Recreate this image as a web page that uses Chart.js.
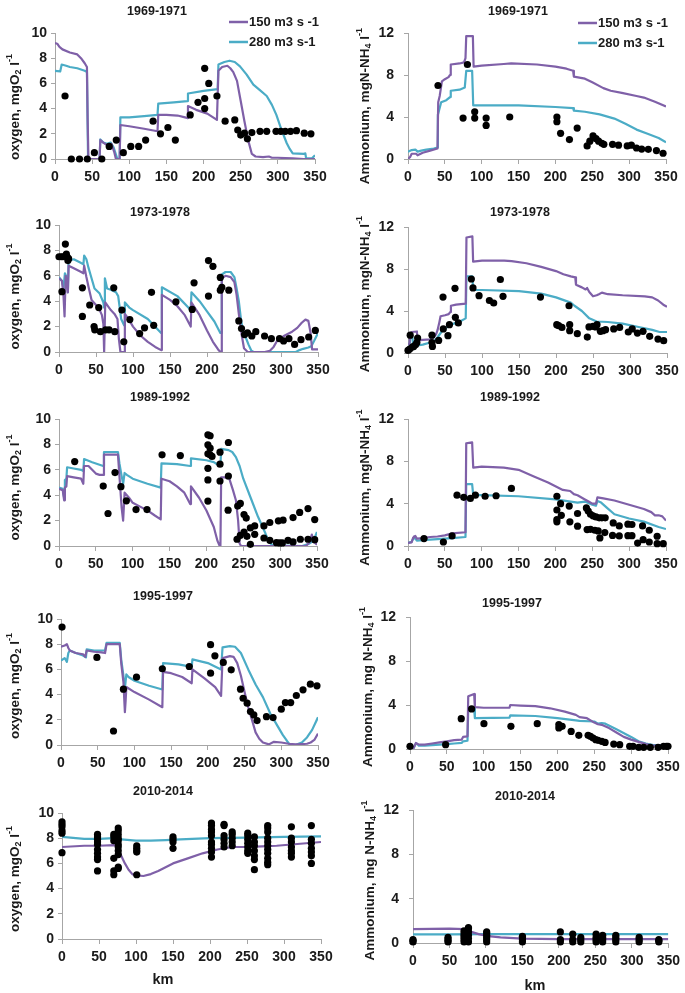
<!DOCTYPE html>
<html><head><meta charset="utf-8">
<script src="https://cdn.jsdelivr.net/npm/chart.js@4"></script>
<style>
html,body{margin:0;padding:0;background:#fff;}
body{width:685px;height:993px;position:relative;overflow:hidden;}
canvas{position:absolute;left:0;top:0;}
</style></head><body>
<script>
// ---------- DATA (km, value) ----------
const xTicks = [0,50,100,150,200,250,300,350];
const oxygenTicks = [0,2,4,6,8,10];
const ammoniumTicks = [0,4,8,12];
const legendLabels = ['150 m3 s -1','280 m3 s-1'];
const periods = ['1969-1971','1973-1978','1989-1992','1995-1997','2010-2014'];

// 1969-1971 oxygen
const o1_q150 = [[0,9.2],[3,9.15],[6,8.9],[10,8.7],[20,8.45],[30,8.3],[35,8.0],[40,7.6],[43,7.3],[44,3],[45,0],[60,0],[61,1.5],[65,1.3],[70,1.1],[75,1.0],[76,1.2],[80,0.5],[82,0],[87,0],[88,2.7],[100,2.6],[120,2.4],[138,2.2],[139,3.5],[150,3.5],[165,3.45],[175,3.3],[178,3.25],[179,4.2],[190,3.9],[205,3.6],[218,3.1],[220,7.0],[225,7.3],[232,7.4],[236,7.2],[240,6.9],[245,6.2],[250,4.6],[255,3.0],[260,1.5],[265,0.4],[270,0.2],[280,0.15],[288,0.2],[292,0.1],[300,0.1],[320,0.05],[335,0],[350,0]];
const o1_q280 = [[0,7.0],[7,6.95],[9,7.5],[15,7.4],[20,7.3],[30,7.2],[35,7.1],[40,7.0],[43,6.9],[44.5,0],[60,0],[61,1.55],[65,1.3],[70,1.2],[75,1.3],[79,0.9],[84,0],[87,0],[88,3.3],[100,3.3],[120,3.4],[138,3.5],[139,4.4],[160,4.5],[178,4.6],[179,5.2],[200,5.4],[219,5.55],[220,7.5],[228,7.7],[235,7.8],[242,7.7],[249,7.35],[258,6.7],[267,5.9],[275,5.5],[285,5.0],[292,4.3],[298,3.5],[305,2.3],[312,1.25],[316,0.8],[320,0.45],[335,0.4],[337,0.45],[338,0.05],[346,0.05],[350,0.3]];
const o1_obs = [[13.5,5.0],[22,0],[33,0],[43.5,0],[53,0.5],[63,0],[73,1.0],[82.5,1.5],[92,0.5],[102,1.0],[112.6,1.0],[122,1.5],[132,3.0],[142,2.0],[152,2.5],[162,1.5],[182,3.5],[192.5,4.5],[201.5,4.8],[201.5,4.0],[201.5,7.2],[207,6.0],[218,5.0],[229,3.0],[242,3.1],[246,2.3],[250,1.9],[255,2.05],[259,1.6],[265,2.1],[276,2.2],[285,2.2],[297.5,2.2],[304,2.2],[310,2.2],[317,2.2],[325,2.25],[335.5,2.05],[344.5,2.0]];

// 1969-1971 ammonium
const a1_q150 = [[0,0],[3,0.2],[5,0.5],[11,0.5],[13,0.35],[20,0.6],[30,0.8],[40,1.0],[41,5.4],[43,6.0],[46,7.4],[50,7.6],[55,7.8],[57,8.0],[58,9.0],[70,9.1],[76,9.2],[78,9.6],[79,11.7],[88,11.7],[89,8.8],[100,8.9],[130,9.05],[140,9.1],[175,9.0],[200,8.8],[215,8.6],[224,8.4],[225,7.85],[240,7.65],[250,7.3],[265,6.75],[275,6.5],[290,6.3],[310,6.0],[320,5.85],[335,5.45],[350,5.0]];
const a1_q280 = [[0,0.7],[5,0.85],[10,0.9],[13,0.7],[18,0.8],[25,0.9],[35,1.0],[40,1.1],[40.5,4.2],[45,5.4],[52,5.6],[57,5.9],[58,6.5],[70,6.6],[77,6.8],[79,8.4],[87,8.4],[88.5,5.1],[150,5.1],[200,4.95],[224,4.85],[225,4.6],[240,4.5],[260,4.25],[280,3.85],[295,3.35],[310,2.8],[325,2.4],[340,2.0],[350,1.6]];
const a1_obs = [[40.7,7.0],[80.6,9.0],[74.7,3.9],[90.5,4.5],[90.5,3.9],[106,3.9],[106,3.2],[138,4.0],[202,4.0],[202,3.55],[207,2.45],[219,1.85],[229.5,2.95],[243,1.25],[246.7,1.7],[251,2.2],[255,1.95],[258.5,1.7],[263,1.5],[265.7,1.4],[277.5,1.4],[285.6,1.32],[297.4,1.25],[303,1.32],[310,1.05],[317,0.95],[326,0.92],[337,0.8],[346,0.55]];

// 1973-1978 oxygen
const o2_q150 = [[0,5.8],[4,5.6],[6,4.5],[7.5,2.8],[9,6.0],[11,5.5],[12,4.7],[13,6.8],[20,6.6],[30,6.3],[33,6.2],[34,6.8],[37,5.9],[40,5.1],[44,4.1],[50,3.7],[55,3.3],[58,2.9],[60,2.2],[61,0],[62,0],[62.5,3.9],[70,3.3],[75,3.0],[79,2.6],[81,1.0],[83,0],[88,0],[89,3.0],[95,2.5],[100,2.0],[110,1.3],[120,0.8],[130,0.4],[138,0.15],[139,4.5],[150,4.1],[160,3.6],[170,2.9],[178,2.0],[179,3.9],[190,2.9],[200,1.7],[208,0.8],[215,0.2],[218,0],[219,0],[220,5.8],[225,6.0],[232,5.9],[237,5.5],[240,4.5],[243,3.0],[247,1.3],[250,0.3],[255,0],[278,0],[285,0.1],[290,0.4],[295,0.9],[305,1.3],[315,1.6],[322,1.9],[328,2.3],[333,2.55],[337,2.45],[340,1.5],[342,0.2],[350,0.2]];
const o2_q280 = [[0,5.9],[4,5.6],[6,5.0],[8,6.2],[11,5.8],[12,4.7],[13,7.2],[20,7.3],[30,7.0],[33,6.9],[34,7.6],[37,7.3],[40,6.6],[43,6.0],[48,5.0],[55,4.6],[60,3.9],[61,3.5],[62,5.8],[65,5.0],[70,4.9],[77,4.7],[80,4.4],[84,2.6],[88,2.1],[89,3.9],[95,3.5],[100,3.3],[120,2.6],[138,1.5],[139,5.1],[160,4.4],[178,3.3],[179,4.7],[190,4.0],[200,3.2],[210,2.4],[218,1.5],[219,1.5],[220,6.1],[225,6.3],[232,6.3],[237,5.9],[240,5.0],[243,4.0],[246,2.5],[249,1.6],[252,1.2],[256,0.6],[260,0.1],[263,0],[320,0],[325,0.15],[330,0.25],[337,0.35],[341,0.45],[345,0.9],[350,1.5]];
const o2_obs = [[0,7.5],[3,7.5],[5.4,7.5],[8.6,8.5],[10,7.7],[11,7.5],[13,7.35],[12,7.2],[4,4.75],[31.6,5.05],[31.6,2.8],[41.5,3.7],[47.4,2.0],[48.3,1.75],[53.7,3.5],[56,1.6],[63,1.75],[67.7,1.75],[74,5.05],[75.4,1.6],[85,3.3],[87.6,0.8],[95.7,2.55],[109,1.45],[115.6,1.9],[125,4.7],[128,2.1],[158,3.95],[180,3.35],[182.5,5.45],[202,7.2],[202,4.4],[208,6.75],[218,5.87],[218,4.87],[220,5.1],[229.5,4.87],[243,2.45],[246.6,1.85],[250.7,1.37],[254.7,1.5],[260.6,1.26],[266,1.6],[277.8,1.26],[287,1.05],[298,1.05],[303.5,0.87],[310.7,1.05],[318.4,0.6],[327,0.97],[337.4,1.18],[346.4,1.7]];

// 1973-1978 ammonium
const a2_q150 = [[0,0.8],[2,0.9],[3,1.8],[5,2.0],[12,2.05],[13,1.2],[20,1.25],[30,1.3],[35,1.5],[38,1.8],[40,2.2],[42,2.8],[44,3.5],[50,3.6],[55,3.7],[57,3.9],[58,4.5],[65,4.6],[78,4.7],[79,11.0],[87,11.1],[88,8.7],[100,8.8],[130,8.8],[140,8.75],[160,8.55],[180,8.2],[200,7.8],[210,7.5],[220,7.3],[226,7.2],[227,6.5],[235,6.25],[240,6.05],[242,6.2],[245,5.8],[250,5.4],[255,5.5],[258,5.6],[262,5.75],[270,5.6],[290,5.5],[320,5.4],[330,5.3],[338,5.0],[345,4.6],[350,4.4]];
const a2_q280 = [[0,0.4],[2,0.5],[3,1.5],[6,1.5],[7,0.6],[10,0.7],[20,0.8],[30,1.0],[35,1.1],[40,1.5],[45,2.0],[50,2.3],[55,2.6],[58,2.7],[70,3.0],[78,3.3],[79,7.3],[87,7.3],[88,6.0],[100,6.0],[150,5.9],[180,5.65],[200,5.3],[220,4.8],[225,4.5],[235,4.0],[245,3.3],[255,3.0],[270,2.95],[290,2.8],[310,2.5],[330,2.2],[340,2.0],[350,2.0]];
const a2_obs = [[0,0.25],[2.3,0.38],[3,1.7],[5.9,0.57],[7.7,0.63],[10.4,0.8],[12,1.0],[13,1.43],[32.4,1.7],[32.4,1.0],[33,0.63],[41.4,1.2],[47.3,5.33],[47.7,2.29],[54,1.65],[56,2.7],[63.5,6.16],[64,3.4],[68,2.86],[85.6,7.05],[87.8,6.2],[96,5.46],[110,5.0],[115.8,4.76],[124.8,7.0],[128.4,5.4],[179,5.33],[201,2.7],[203.6,2.6],[208,2.44],[217.6,4.5],[218.5,2.7],[218.5,2.13],[228.8,1.84],[242.3,1.52],[244.6,2.48],[250,2.54],[253.6,2.48],[255.4,2.7],[260,2.06],[263.5,2.13],[267,2.22],[278,2.29],[286,2.44],[297.7,2.0],[303,2.29],[310,1.9],[317.6,2.06],[326.6,1.59],[337.8,1.33],[345.5,1.17]];

// 1989-1992 oxygen
const o3_q150 = [[0,4.5],[5,4.4],[7,3.6],[8,4.6],[10,4.7],[11,5.5],[20,5.4],[30,5.3],[33,4.9],[34,6.3],[40,6.3],[45,6.0],[50,5.7],[55,5.6],[60,5.6],[61,7.2],[80,7.2],[82,5.5],[85,3.0],[87,2.0],[89,4.2],[95,3.8],[100,3.4],[110,3.1],[120,2.8],[130,2.4],[138,2.1],[139,5.3],[150,5.1],[160,4.7],[170,4.2],[178,3.3],[179,4.7],[190,3.8],[200,2.8],[210,1.5],[215,0.4],[218,0],[219,0],[220,5.4],[225,5.4],[231,5.3],[236,4.4],[240,3.6],[243,2.0],[245,0.2],[247,0],[335,0],[340,0.3],[343,0.9],[346,0.3],[350,0.1]];
const o3_q280 = [[0,4.6],[5,4.5],[7,3.8],[8,5.2],[10,5.3],[11,6.2],[20,6.1],[30,6.0],[33,5.9],[34,6.85],[45,6.6],[55,6.4],[60,6.3],[61,7.4],[80,7.4],[82,6.5],[85,5.5],[87,4.9],[89,5.75],[92,5.6],[100,5.3],[120,4.9],[138,4.6],[139,6.5],[160,6.45],[178,6.3],[179,6.9],[200,6.75],[210,6.6],[218,6.3],[219,6.3],[220,7.65],[230,7.55],[235,7.4],[240,7.0],[245,6.3],[250,5.3],[260,3.8],[270,2.3],[280,1.0],[285,0.3],[290,0.05],[330,0],[340,0.2],[345,0.4],[350,1.1]];
const o3_obs = [[21.3,6.65],[60,4.72],[66.5,2.56],[76,5.78],[84,4.67],[91.4,3.56],[104.5,2.87],[119.4,2.87],[139.8,7.18],[164.6,7.12],[202,8.76],[205,8.68],[202,7.97],[205,7.7],[202,7.26],[205,7.18],[207.6,7.05],[202,6.12],[202,5.2],[202,3.54],[218.4,7.39],[218.4,6.44],[218.4,5.12],[229.8,8.15],[229.8,5.51],[229.4,2.82],[242.4,3.14],[246,3.35],[241.5,0.53],[246,0.84],[251,2.48],[254,2.2],[251,1.1],[255,0.76],[259.6,0.13],[259.6,1.42],[265.5,1.58],[265.5,0.92],[278,1.58],[278,0.63],[286,1.85],[286,0.45],[297.6,1.98],[299.4,0.24],[304,2.03],[303,0.24],[310.7,0.45],[317.5,2.24],[317.5,0.32],[326.5,2.64],[327.4,0.53],[337.8,2.95],[337.8,0.53],[346.9,2.08],[346.9,0.5],[295,0.26]];

// 1989-1992 ammonium
const a3_q150 = [[0,0.3],[5,0.35],[7,0.8],[8,0.9],[10,0.95],[12,0.7],[20,0.75],[30,0.85],[40,0.9],[50,1.0],[55,1.1],[60,1.2],[78,1.3],[79,9.7],[87,9.8],[88.5,7.4],[100,7.5],[130,7.4],[150,7.2],[170,6.6],[190,6.0],[210,5.3],[220,5.2],[225,4.9],[230,4.8],[240,4.4],[245,4.2],[250,4.0],[255,4.0],[257,4.6],[265,4.5],[280,4.3],[300,3.9],[320,3.5],[330,3.2],[335,2.9],[340,2.9],[345,2.8],[350,2.4]];
const a3_q280 = [[0,0.3],[5,0.4],[7,0.7],[8,0.8],[10,0.7],[12,0.5],[20,0.55],[30,0.6],[50,0.7],[60,0.75],[78,0.85],[79,5.85],[87,5.85],[88.5,4.8],[100,4.8],[150,4.7],[200,4.4],[230,4.1],[240,4.2],[250,3.9],[255,3.8],[257,4.25],[262,4.1],[270,3.6],[280,3.0],[300,2.6],[320,2.3],[340,1.8],[350,1.6]];
const a3_obs = [[21.7,0.7],[48,0.38],[59.8,0.95],[66.5,4.8],[75.6,4.6],[84.6,4.5],[91.4,4.8],[104.6,4.7],[119.5,4.75],[140.3,5.44],[202,4.7],[202,3.4],[202,2.5],[202,2.28],[207,4.0],[208,2.9],[218.7,3.77],[219.6,2.28],[230,3.07],[230,1.87],[242,3.6],[244.5,3.3],[247.6,3.0],[251,2.85],[254.9,2.75],[259.4,2.66],[263,2.66],[267.5,2.66],[243,1.55],[247.6,1.58],[253.5,1.49],[258,1.42],[260.3,0.76],[267,1.27],[278.4,2.18],[286.6,1.9],[277.5,1.0],[286.6,0.95],[298.3,2.06],[303.8,2.03],[298.3,0.98],[303.8,0.98],[311.5,0.28],[318.2,1.9],[319,0.6],[327.3,1.49],[327.3,0.38],[338,0.92],[338,0.22],[346.3,0.22]];

// 1995-1997 oxygen
const o4_q150 = [[0,7.8],[5,7.9],[8,8.0],[10,7.7],[12,7.5],[20,7.3],[30,7.2],[33,7.0],[35,7.5],[45,7.4],[55,7.35],[60,7.3],[62,8.0],[80,8.0],[82,6.5],[85,5.0],[87,2.6],[88,3.5],[89,4.6],[100,4.2],[120,3.6],[138,3.0],[139,5.8],[150,5.7],[165,5.4],[178,4.9],[179,6.0],[195,5.3],[210,4.6],[218,3.9],[219,3.9],[220,6.9],[230,7.05],[235,7.0],[240,6.5],[245,5.5],[250,4.2],[255,3.0],[260,2.0],[265,1.0],[270,0.5],[275,0.2],[283,0.05],[290,0.25],[300,0.2],[310,0.1],[320,0.05],[335,0.1],[340,0.2],[345,0.4],[350,0.9]];
const o4_q280 = [[0,6.7],[5,6.9],[8,6.6],[10,7.3],[12,7.5],[20,7.3],[30,7.1],[34,6.95],[35,7.6],[45,7.5],[60,7.5],[62,8.1],[80,8.1],[82,6.8],[85,5.5],[87,4.5],[89,5.6],[92,5.4],[100,5.1],[120,4.7],[138,4.4],[139,6.5],[160,6.4],[178,6.2],[179,6.8],[200,6.5],[218,6.0],[219,6.0],[220,7.75],[230,7.85],[237,7.8],[245,7.3],[255,6.0],[265,4.8],[275,3.8],[285,2.5],[295,1.5],[302,0.8],[308,0.3],[312,0],[320,0.02],[328,0.2],[335,0.6],[342,1.2],[350,2.2]];
const o4_obs = [[1.4,9.36],[48.9,6.95],[71.5,1.11],[85,4.43],[102.8,5.38],[138,6.05],[174.7,6.23],[203.7,7.96],[203.7,5.7],[209.6,7.08],[221,6.55],[231.8,5.97],[244.5,4.43],[248,3.71],[253.5,3.32],[258,2.65],[262.6,2.39],[267,1.94],[279.8,2.25],[288.8,2.18],[300,2.84],[305.6,3.37],[312.8,3.37],[320.5,3.93],[329.6,4.38],[339.6,4.83],[348.6,4.7]];

// 1995-1997 ammonium
const a4_q150 = [[0,0],[5,0.1],[8,0.55],[12,0.4],[20,0.4],[30,0.5],[40,0.6],[50,0.7],[60,0.8],[70,0.85],[72,1.1],[78,1.15],[79,4.8],[87,5.0],[88,3.8],[100,3.75],[135,3.75],[136,4.0],[150,3.95],[170,3.9],[190,3.7],[210,3.4],[225,3.1],[230,2.9],[240,2.8],[250,2.4],[255,2.25],[260,2.2],[270,1.9],[280,1.5],[290,1.1],[300,0.85],[310,0.65],[320,0.45],[330,0.3],[350,0.3]];
const a4_q280 = [[0,0.05],[5,0.1],[8,0.5],[10,0.45],[12,0.3],[20,0.3],[30,0.35],[50,0.45],[60,0.5],[70,0.55],[72,0.7],[78,0.75],[79,3.6],[87,3.7],[88,2.8],[135,2.85],[136,3.05],[170,3.0],[200,2.8],[225,2.6],[230,2.55],[250,2.5],[255,2.3],[260,2.35],[265,2.3],[280,1.8],[300,1.1],[310,0.7],[320,0.5],[330,0.35],[350,0.35]];
const a4_obs = [[0,0.24],[48.3,0.39],[69.5,2.76],[83.6,3.64],[100.3,2.3],[136.9,2.06],[172.6,2.3],[201.9,2.21],[201.9,1.91],[206.4,2.06],[218.6,1.6],[229,1.24],[241.6,1.24],[244.8,1.15],[248.4,1.0],[252,0.85],[255.2,0.79],[260.2,0.7],[264.7,0.6],[276.4,0.45],[284.5,0.39],[298,0.24],[302.6,0.24],[310.3,0.15],[317,0.15],[326,0.15],[336.5,0.15],[344,0.24],[347.8,0.24],[350,0.24]];

// 2010-2014 oxygen
const o5_q150 = [[0,7.3],[30,7.4],[50,7.4],[70,7.45],[75,7.3],[80,6.6],[85,6.0],[90,5.5],[95,5.15],[100,5.05],[110,5.0],[120,5.15],[130,5.4],[140,5.7],[150,6.0],[170,6.4],[190,6.8],[210,7.1],[230,7.3],[250,7.3],[270,7.35],[290,7.4],[310,7.5],[330,7.6],[350,7.7]];
const o5_q280 = [[0,8.1],[30,7.95],[50,7.95],[70,8.0],[80,7.9],[100,7.8],[120,7.8],[140,7.85],[160,7.9],[200,8.0],[250,8.05],[300,8.1],[350,8.15]];
const o5_obsKm = [0,48,70,76,101,150,202,219,230,251,260,278,310,337];
const o5_obsVals = [[9.3,9.1,8.9,8.6,8.4,6.85],[8.3,8.1,7.9,7.7,7.5,7.1,6.8,6.5,6.3,5.4],[8.3,8.1,7.8,6.4,5.4,5.1],[8.8,8.6,8.3,8.0,7.8,7.5,7.3,7.0,6.7,5.7,5.6],[7.4,7.2,7.0,6.9,5.1],[8.1,7.9,7.7,7.2],[9.2,9.0,8.7,8.5,8.2,7.7,7.5,7.2,6.9,6.5],[9.1,9.0,8.2,7.9,7.6,7.3],[8.5,8.3,8.0,7.7,7.4],[8.4,8.2,7.9,7.6,7.3,7.0,6.8],[8.1,7.7,7.4,7.0,6.6,6.3,5.5],[9.0,8.8,8.5,8.0,7.7,7.4,7.1,6.8,6.4,6.1,5.9],[8.9,8.0,7.7,7.3,7.0,6.8,6.5],[9.0,7.9,7.6,7.2,6.9,6.6,6.0]];

// 2010-2014 ammonium
const a5_q150 = [[0,1.25],[50,1.3],[70,1.25],[80,1.0],[90,0.8],[100,0.65],[120,0.5],[150,0.4],[200,0.35],[250,0.35],[300,0.35],[350,0.35]];
const a5_q280 = [[0,0.78],[50,0.78],[100,0.8],[200,0.8],[300,0.8],[350,0.8]];
const a5_obsKm = [0,48,70,72,76,101,150,202,219,230,251,260,278,310,337];
const a5_obsVals = [[0.1,0.2,0.3],[0.1,0.2,0.35,0.5],[0.1,0.3,0.5,0.7,0.9,1.1],[0.2,0.6,1.0],[0.1,0.4,0.7,1.0,1.3,1.4],[0.1,0.3,0.5,0.7,0.9,1.0],[0.1,0.3,0.5,0.6],[0.1,0.3,1.0],[0.1,0.3,0.8],[0.1,0.3,0.5],[0.1,0.3,0.5,0.8],[0.1,0.3,0.5,0.7],[0.1,0.3,0.5,0.7],[0.1,0.3,0.5],[0.1,0.2,0.3]];

// ---------- STYLE / LAYOUT ----------
const PURPLE = '#7f60a8';
const CYAN = '#4bacc6';
const AXIS = '#a6a6a6';
const INK = '#1a1a1a';
const FONT = '"Liberation Sans", Arial, Helvetica, sans-serif';
const PAGE_W = 685, PAGE_H = 993;

function toXY(arr){ return arr.map(p => ({x:p[0], y:p[1]})); }
function expand(km, vals){ const out=[]; km.forEach((k,i)=>vals[i].forEach(v=>out.push([k,v]))); return out; }

const OXY = [['oxygen, mgO',0],['2',1],[' l',0],['-1',-1]];
const AMM1 = [['Ammonium, mgN-NH',0],['4',1],[' l',0],['-1',-1]];
const AMM2 = [['Ammonium, mg N-NH',0],['4',1],[' l',0],['-1',-1]];

// plot: [left, right, top, bottom] in page pixels
const panels = [
 {t:periods[0], y:'o', q150:o1_q150, q280:o1_q280, obs:o1_obs, plot:[55,315,33,159], tp:[157,12], leg:[229,248,22,42], yl:OXY, ylx:15, ylo:11},
 {t:periods[0], y:'a', q150:a1_q150, q280:a1_q280, obs:a1_obs, plot:[408,666,33,159], tp:[518,12], leg:[578,597,23,43], yl:AMM1, ylx:365, ylo:10},
 {t:periods[1], y:'o', q150:o2_q150, q280:o2_q280, obs:o2_obs, plot:[59,318,225,352], tp:[160,213], yl:OXY, ylx:15, ylo:8},
 {t:periods[1], y:'a', q150:a2_q150, q280:a2_q280, obs:a2_obs, plot:[408,667,227,353], tp:[520,213], yl:AMM1, ylx:365, ylo:4},
 {t:periods[2], y:'o', q150:o3_q150, q280:o3_q280, obs:o3_obs, plot:[59,317,419,546], tp:[160,398], yl:OXY, ylx:15, ylo:5},
 {t:periods[2], y:'a', q150:a3_q150, q280:a3_q280, obs:a3_obs, plot:[408,666,419,546], tp:[510,398], yl:AMM1, ylx:365, ylo:5},
 {t:periods[3], y:'o', q150:o4_q150, q280:o4_q280, obs:o4_obs, plot:[61,318,619,745], tp:[163,597], yl:OXY, ylx:15, ylo:4},
 {t:periods[3], y:'a', q150:a4_q150, q280:a4_q280, obs:a4_obs, plot:[410,668,617,749], tp:[512,604], yl:AMM2, ylx:368, ylo:4},
 {t:periods[4], y:'o', q150:o5_q150, q280:o5_q280, obs:expand(o5_obsKm,o5_obsVals), plot:[62,321,813,939], tp:[163,792], yl:OXY, ylx:15, ylo:3, km:[163,980]},
 {t:periods[4], y:'a', q150:a5_q150, q280:a5_q280, obs:expand(a5_obsKm,a5_obsVals), plot:[413,672,810,943], tp:[525,797], yl:AMM2, ylx:370, ylo:4, km:[535,986]}
];

const textPlugin = {
  id: 'panelText',
  afterDraw(chart){
    const o = chart.options.plugins.panelText;
    const ctx = chart.ctx;
    ctx.save();
    ctx.fillStyle = INK;
    ctx.textBaseline = 'middle';
    // title
    ctx.font = 'bold 12.5px ' + FONT;
    ctx.textAlign = 'center';
    ctx.fillText(o.title, o.tx, o.ty);
    // legend
    if (o.leg){
      const [x1,x2,y1,y2] = o.leg;
      [[PURPLE,y1,legendLabels[0]],[CYAN,y2,legendLabels[1]]].forEach(([c,y,s])=>{
        ctx.strokeStyle = c; ctx.lineWidth = 2.5;
        ctx.beginPath(); ctx.moveTo(x1,y); ctx.lineTo(x2,y); ctx.stroke();
        ctx.font = 'bold 13px ' + FONT; ctx.textAlign = 'left';
        ctx.fillText(s, x2+1, y);
      });
    }
    // km
    if (o.km){
      ctx.font = 'bold 14.5px ' + FONT; ctx.textAlign = 'center';
      ctx.fillText('km', o.km[0], o.km[1]);
    }
    // y label with sub/superscripts
    const big = 'bold 13.5px ' + FONT, small = 'bold 9px ' + FONT;
    let total = 0;
    o.yl.forEach(([s,k])=>{ ctx.font = k ? small : big; total += ctx.measureText(s).width; });
    ctx.translate(o.ylx, o.yly);
    ctx.rotate(-Math.PI/2);
    ctx.textAlign = 'left';
    let x = -total/2;
    o.yl.forEach(([s,k])=>{
      ctx.font = k ? small : big;
      ctx.fillText(s, x, k===1 ? 4 : (k===-1 ? -5 : 0));
      x += ctx.measureText(s).width;
    });
    ctx.restore();
  }
};

panels.forEach(p => {
  const [L,R,T,B] = p.plot;
  const cv = document.createElement('canvas');
  cv.width = PAGE_W; cv.height = PAGE_H;
  cv.style.width = PAGE_W+'px'; cv.style.height = PAGE_H+'px';
  document.body.appendChild(cv);
  const isO = p.y === 'o';
  const yT = isO ? oxygenTicks : ammoniumTicks;
  const tickFont = {family: FONT, size: 14, weight: 'bold'};
  new Chart(cv, {
    type: 'scatter',
    data: { datasets: [
      {type:'scatter', data: toXY(p.obs), backgroundColor:'#000', borderColor:'#000', pointRadius:3.6, borderWidth:0, clip:false, order:0},
      {type:'line', data: toXY(p.q150), borderColor: PURPLE, borderWidth: 2.2, pointRadius:0, tension:0, fill:false, borderJoinStyle:'round', order:1},
      {type:'line', data: toXY(p.q280), borderColor: CYAN, borderWidth: 2.2, pointRadius:0, tension:0, fill:false, borderJoinStyle:'round', order:2}
    ]},
    options: {
      responsive:false, animation:false, events:[], devicePixelRatio: 1,
      layout:{padding:{left:0, right: PAGE_W-R, top: T, bottom:0}},
      plugins:{
        legend:{display:false}, tooltip:{enabled:false}, title:{display:false},
        panelText:{title:p.t, tx:p.tp[0], ty:p.tp[1], leg:p.leg||null,
          yl:p.yl, ylx:p.ylx, yly:(T+B)/2+p.ylo, km:p.km||null}
      },
      scales:{
        x:{type:'linear', min:xTicks[0], max:xTicks[xTicks.length-1],
           afterBuildTicks(s){ s.ticks = xTicks.map(v=>({value:v})); },
           ticks:{font:tickFont, color:INK, padding:5, maxRotation:0, autoSkip:false},
           grid:{display:true, drawOnChartArea:false, drawTicks:true, tickLength:5, color:AXIS},
           border:{display:true, color:AXIS, width:1},
           afterFit(s){ s.height = PAGE_H-B; }},
        y:{type:'linear', min:yT[0], max:yT[yT.length-1],
           afterBuildTicks(s){ s.ticks = yT.map(v=>({value:v})); },
           ticks:{font:tickFont, color:INK, padding: isO ? 4 : 10, autoSkip:false},
           grid:{display:true, drawOnChartArea:false, drawTicks:true, tickLength:4, color:AXIS},
           border:{display:true, color:AXIS, width:1},
           afterFit(s){ s.width = L; }}
      }
    },
    plugins:[textPlugin]
  });
});
</script>
</body></html>
